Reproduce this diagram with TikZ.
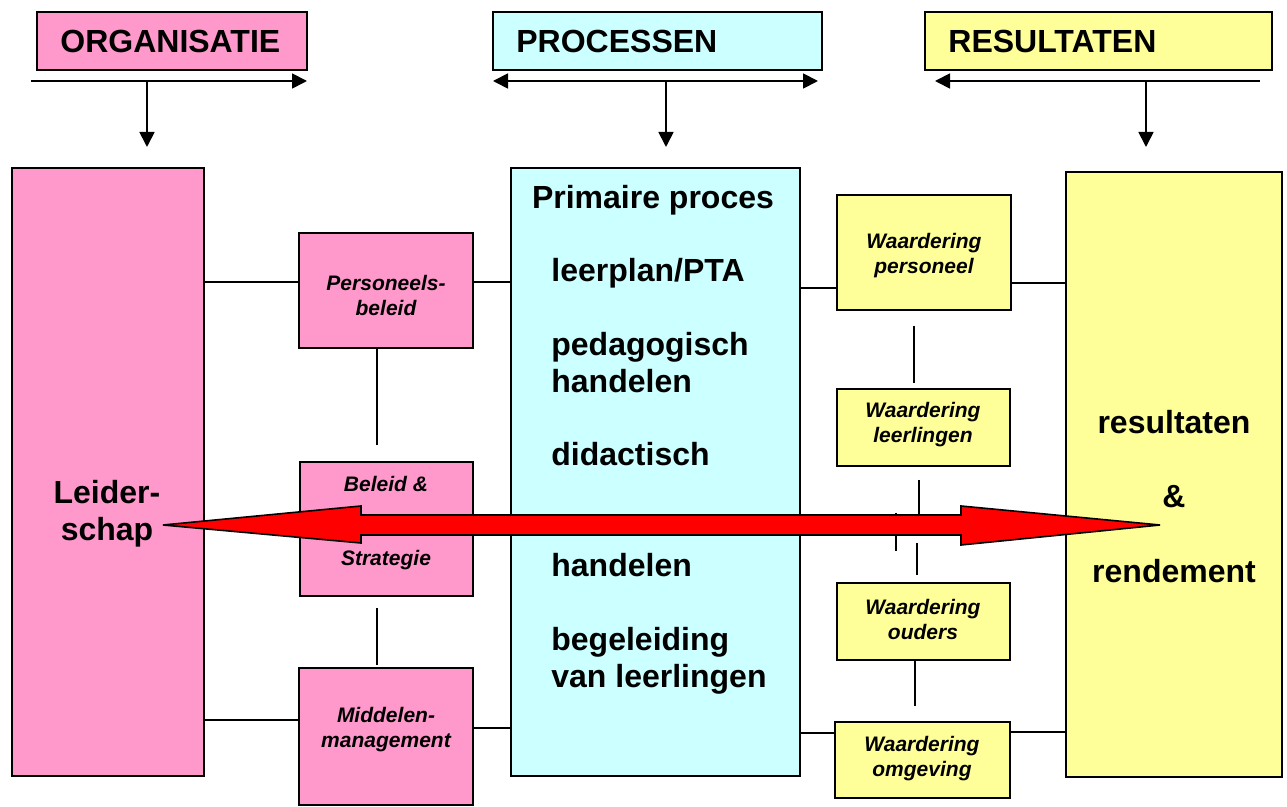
\documentclass[tikz,border=0pt]{standalone}
\usepackage{fontspec}
\setmainfont{Liberation Sans}
\usetikzlibrary{arrows.meta}
\definecolor{pinkbox}{HTML}{FF99CC}
\definecolor{cyanbox}{HTML}{CCFFFF}
\definecolor{yellowbox}{HTML}{FFFF99}
\tikzset{
  box/.style={draw=black, line width=1pt, inner sep=0pt},
  bigtxt/.style={font=\fontsize{16}{18.5}\selectfont\bfseries, inner sep=0pt},
  smalltxt/.style={font=\fontsize{10.5}{12.5}\selectfont\bfseries\itshape, align=center, inner sep=0pt},
  conn/.style={line width=0.9pt},
  arr/.style={line width=0.9pt, -{Triangle[length=7.5pt,width=7.5pt]}},
  dblarr/.style={line width=0.9pt, {Triangle[length=7.5pt,width=7.5pt]}-{Triangle[length=7.5pt,width=7.5pt]}},
  bigarrow/.style={fill=red, draw=black, line width=0.8pt, line join=miter}
}
\begin{document}
\begin{tikzpicture}[x=0.5pt,y=-0.5pt]
\useasboundingbox (0,0) rectangle (1287,807);
% header boxes
\node[box, fill=pinkbox, minimum width=135pt, minimum height=29pt] (org) at (172,41) {};
\node[box, fill=cyanbox, minimum width=164.5pt, minimum height=29pt] (proc) at (657.5,41) {};
\node[box, fill=yellowbox, minimum width=173.5pt, minimum height=29pt] (resh) at (1098.5,41) {};
\node[bigtxt, anchor=base west] (orgtxt) at (60,53) {ORGANISATIE};
\node[bigtxt, anchor=base west] (proctxt) at (516,53) {PROCESSEN};
\node[bigtxt, anchor=base west] (reshtxt) at (948,53) {RESULTATEN};
% header arrows
\coordinate (oa1) at (31,81); \coordinate (oa2) at (307,81);
\coordinate (od1) at (147,81); \coordinate (od2) at (147,147);
\coordinate (pa1) at (493,81); \coordinate (pa2) at (818,81);
\coordinate (pd1) at (666,81); \coordinate (pd2) at (666,147);
\coordinate (ra1) at (1260,81); \coordinate (ra2) at (935,81);
\coordinate (rd1) at (1146,81); \coordinate (rd2) at (1146,147);
\draw[arr] (oa1) -- (oa2);
\draw[arr] (od1) -- (od2);
\draw[dblarr] (pa1) -- (pa2);
\draw[arr] (pd1) -- (pd2);
\draw[arr] (ra1) -- (ra2);
\draw[arr] (rd1) -- (rd2);
% main boxes
\node[box, fill=pinkbox, minimum width=96pt, minimum height=304pt] (leider) at (108,472) {};
\node[box, fill=pinkbox, minimum width=87pt, minimum height=57.5pt] (pers) at (386,290.5) {};
\node[box, fill=pinkbox, minimum width=86.5pt, minimum height=67pt] (beleid) at (386.5,529) {};
\node[box, fill=pinkbox, minimum width=87pt, minimum height=68.5pt] (midd) at (386,736.5) {};
\node[box, fill=cyanbox, minimum width=144.5pt, minimum height=304pt] (prim) at (655.5,472) {};
\node[box, fill=yellowbox, minimum width=87pt, minimum height=57.5pt] (wpers) at (924,252.5) {};
\node[box, fill=yellowbox, minimum width=86.5pt, minimum height=38.5pt] (wleer) at (923.5,427.5) {};
\node[box, fill=yellowbox, minimum width=86.5pt, minimum height=38.5pt] (wouders) at (923.5,621.5) {};
\node[box, fill=yellowbox, minimum width=87.5pt, minimum height=38pt] (womg) at (922.5,760) {};
\node[box, fill=yellowbox, minimum width=108pt, minimum height=302.5pt] (res) at (1174,474.5) {};
% connectors
\draw[conn] (leider.east |- 0,282) -- (pers.west |- 0,282);
\draw[conn] (pers.east |- 0,282) -- (prim.west |- 0,282);
\coordinate (pv) at (377,445);
\draw[conn] (pers.south -| pv) -- (pv);
\coordinate (bv1) at (377,608); \coordinate (bv2) at (377,665);
\draw[conn] (bv1) -- (bv2);
\draw[conn] (leider.east |- 0,720) -- (midd.west |- 0,720);
\draw[conn] (midd.east |- 0,728) -- (prim.west |- 0,728);
\draw[conn] (prim.east |- 0,288) -- (wpers.west |- 0,288);
\draw[conn] (wpers.east |- 0,283) -- (res.west |- 0,283);
\draw[conn] (prim.east |- 0,733) -- (womg.west |- 0,733);
\draw[conn] (womg.east |- 0,732) -- (res.west |- 0,732);
\coordinate (w1a) at (914,326); \coordinate (w1b) at (914,383);
\coordinate (w2a) at (919,480); \coordinate (w2b) at (919,517);
\coordinate (w3a) at (896,513); \coordinate (w3b) at (896,551);
\coordinate (w4a) at (917,543); \coordinate (w4b) at (917,575);
\coordinate (w5b) at (915,706);
\draw[conn] (w1a) -- (w1b);
\draw[conn] (w2a) -- (w2b);
\draw[conn] (w3a) -- (w3b);
\draw[conn] (w4a) -- (w4b);
\draw[conn] (wouders.south -| w5b) -- (w5b);
% texts
\node[bigtxt, anchor=base] (lt1) at (107,504) {Leider-};
\node[bigtxt, anchor=base] (lt2) at (107,541) {schap};
\node[bigtxt, anchor=base] (pt0) at (653,209) {Primaire proces};
\node[bigtxt, anchor=base west] (pt1) at (551,282) {leerplan/PTA};
\node[bigtxt, anchor=base west] (pt2) at (551,356) {pedagogisch};
\node[bigtxt, anchor=base west] (pt3) at (551,393) {handelen};
\node[bigtxt, anchor=base west] (pt4) at (551,466) {didactisch};
\node[bigtxt, anchor=base west] (pt5) at (551,577) {handelen};
\node[bigtxt, anchor=base west] (pt6) at (551,651) {begeleiding};
\node[bigtxt, anchor=base west] (pt7) at (551,688) {van leerlingen};
\node[bigtxt, anchor=base] (rt1) at (1174,434) {resultaten};
\node[bigtxt, anchor=base] (rt2) at (1174,508) {\&};
\node[bigtxt, anchor=base] (rt3) at (1174,583) {rendement};
\node[smalltxt] (perst) at (386,296) {Personeels-\\beleid};
\node[smalltxt, anchor=base] (bt1) at (386,492) {Beleid \&};
\node[smalltxt, anchor=base] (bt2) at (386,566) {Strategie};
\node[smalltxt] (middt) at (386,730) {Middelen-\\management};
\node[smalltxt] (wperst) at (924,256) {Waardering\\personeel};
\node[smalltxt] (wleert) at (923,425) {Waardering\\leerlingen};
\node[smalltxt] (woudt) at (923,620) {Waardering\\ouders};
\node[smalltxt] (womgt) at (922,759) {Waardering\\omgeving};
% red double arrow
\draw[bigarrow] (163,525) -- (361,506) -- (361,515) -- (961,515) -- (961,506) -- (1160,525)
  -- (961,545) -- (961,535) -- (361,535) -- (361,543) -- cycle;
\end{tikzpicture}
\end{document}
